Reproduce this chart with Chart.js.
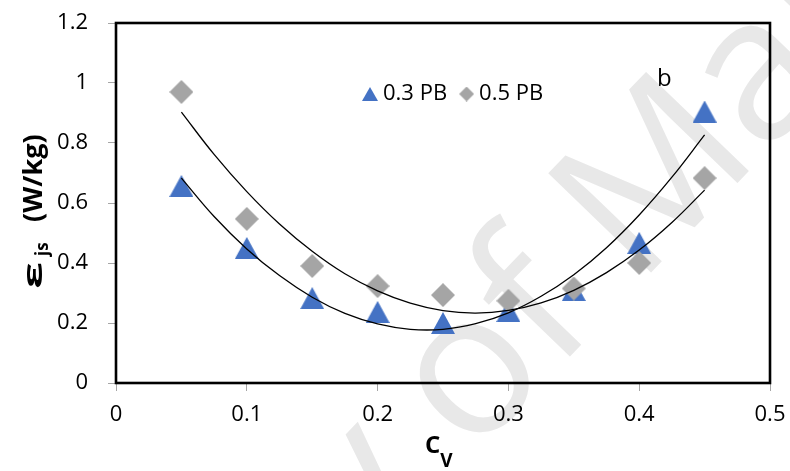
<!DOCTYPE html>
<html>
<head>
<meta charset="utf-8">
<script src="https://cdn.jsdelivr.net/npm/chart.js@4.4.1/dist/chart.umd.min.js"></script>
<style>
  html, body { margin: 0; padding: 0; background: #fff; }
  #wrap { width: 790px; height: 471px; }
</style>
</head>
<body>
<div id="wrap"><canvas id="c" width="790" height="471"></canvas></div>
<script>
// Volume concentration (Cv) of the measured points
const cv = [0.05, 0.1, 0.15, 0.2, 0.25, 0.3, 0.35, 0.4, 0.45];
// Specific energy εjs (W/kg) for each pebble size
const pb03 = [0.657, 0.45, 0.283, 0.237, 0.20, 0.24, 0.31, 0.467, 0.905];
const pb05 = [0.97, 0.547, 0.39, 0.323, 0.293, 0.274, 0.315, 0.40, 0.683];
// Second-order trend curves, sampled along Cv
const fitCv = [0.05, 0.075, 0.1, 0.125, 0.15, 0.175, 0.2, 0.225, 0.25, 0.275, 0.3, 0.325, 0.35, 0.375, 0.4, 0.425, 0.45];
const fit03 = [0.683, 0.555, 0.447, 0.358, 0.286, 0.232, 0.197, 0.179, 0.179, 0.198, 0.234, 0.289, 0.361, 0.451, 0.560, 0.686, 0.827];
const fit05 = [0.903, 0.762, 0.638, 0.530, 0.439, 0.364, 0.307, 0.266, 0.241, 0.233, 0.242, 0.267, 0.309, 0.368, 0.443, 0.535, 0.643];
// Axis ticks and labels
const xTicks = [0, 0.1, 0.2, 0.3, 0.4, 0.5];
const yTicks = [0, 0.2, 0.4, 0.6, 0.8, 1, 1.2];
const seriesNames = ['0.3 PB', '0.5 PB'];
const panelLabel = 'b';
const watermarkText = 'University of Malaya';

const BLUE = '#4472C4';
const GREY = '#A5A5A5';
const FONT = '"Open Sans", "Liberation Sans", sans-serif';

// Build a marker bitmap (centred on the data point by Chart.js)
function markerCanvas(shape, w, h, color) {
  const c = document.createElement('canvas');
  c.width = w; c.height = h;
  const g = c.getContext('2d');
  g.fillStyle = color;
  g.beginPath();
  if (shape === 'triangle') {
    g.moveTo(w / 2, 0); g.lineTo(w, h); g.lineTo(0, h);
  } else {
    g.moveTo(w / 2, 0); g.lineTo(w, h / 2); g.lineTo(w / 2, h); g.lineTo(0, h / 2);
  }
  g.closePath();
  g.fill();
  return c;
}

const triPoint = markerCanvas('triangle', 24, 22, BLUE);
const diaPoint = markerCanvas('diamond', 24, 24, GREY);
const triIcon = markerCanvas('triangle', 16, 14, BLUE);
const diaIcon = markerCanvas('diamond', 15, 15, GREY);

const toXY = (xs, ys) => xs.map((x, i) => ({ x: x, y: ys[i] }));

// Page background and the faint diagonal watermark behind the plot
const backdrop = {
  id: 'backdrop',
  beforeDraw(chart) {
    const ctx = chart.ctx;
    ctx.save();
    ctx.fillStyle = '#fff';
    ctx.fillRect(0, 0, chart.width, chart.height);
    const size = 200;
    ctx.font = '500 ' + size + 'px ' + FONT;
    ctx.fillStyle = '#e8e8e8';
    ctx.textBaseline = 'alphabetic';
    ctx.textAlign = 'left';
    const pre = ctx.measureText('University ').width;
    const o = ctx.measureText('o').width;
    ctx.translate(474, 378);
    ctx.rotate(-46 * Math.PI / 180);
    ctx.fillText(watermarkText, -(pre + o / 2), 0.27 * size);
    ctx.restore();
  }
};

// Legend inside the plot, panel letter, frame and axis titles
const overlay = {
  id: 'overlay',
  afterDraw(chart) {
    const ctx = chart.ctx;
    const a = chart.chartArea;
    ctx.save();

    // plot frame
    ctx.strokeStyle = '#000';
    ctx.lineWidth = 2.6;
    ctx.strokeRect(a.left, a.top, a.right - a.left, a.bottom - a.top);

    // legend
    ctx.fillStyle = '#000';
    ctx.font = '22px ' + FONT;
    ctx.textBaseline = 'alphabetic';
    ctx.textAlign = 'left';
    let x = 362;
    const cy = 94;
    chart.data.datasets
      .filter(ds => ds.legendIcon)
      .sort((p, q) => seriesNames.indexOf(p.label) - seriesNames.indexOf(q.label))
      .forEach(ds => {
        const ic = ds.legendIcon;
        ctx.drawImage(ic, x, cy - ic.height / 2);
        x += ic.width + 5;
        ctx.fillText(ds.label, x, 100);
        x += ctx.measureText(ds.label).width + 12;
      });

    // panel letter
    ctx.font = '24px ' + FONT;
    ctx.fillText(panelLabel, 657, 86);

    // x-axis title: C with subscript V
    ctx.font = 'bold 24px ' + FONT;
    ctx.fillText('C', 425, 453);
    const cw = ctx.measureText('C').width;
    ctx.font = 'bold 19px ' + FONT;
    ctx.fillText('V', 425 + cw, 467);

    // y-axis title: εjs (W/kg), reading upwards
    ctx.translate(42, 0);
    ctx.rotate(-Math.PI / 2);
    ctx.save();
    ctx.font = 'bold 27px ' + FONT;
    ctx.translate(-289, 0);
    const ew = ctx.measureText('ε').width;
    ctx.scale(27 / ew, 1);
    ctx.fillText('ε', 0, 0);
    ctx.restore();
    ctx.font = 'bold 17px ' + FONT;
    ctx.fillText('js', -256, 6);
    ctx.font = 'bold 27px ' + FONT;
    ctx.fillText('(W/kg)', -222, 0);

    ctx.restore();
  }
};

// Pin the axis boxes so the plot area sits where the layout padding says
function pinScale(size) {
  return s => {
    if (s.isHorizontal()) s.height = size; else s.width = size;
    s.paddingTop = 0; s.paddingBottom = 0; s.paddingLeft = 0; s.paddingRight = 0;
  };
}

const tickFont = { family: FONT, size: 22 };

new Chart(document.getElementById('c'), {
  type: 'scatter',
  data: {
    datasets: [
      {
        label: 'fit 0.3 PB', data: toXY(fitCv, fit03), showLine: true,
        borderColor: '#000', borderWidth: 1.3, pointRadius: 0, tension: 0.4, fill: false, order: 0
      },
      {
        label: 'fit 0.5 PB', data: toXY(fitCv, fit05), showLine: true,
        borderColor: '#000', borderWidth: 1.3, pointRadius: 0, tension: 0.4, fill: false, order: 0
      },
      {
        label: seriesNames[1], data: toXY(cv, pb05), pointStyle: diaPoint,
        backgroundColor: GREY, legendIcon: diaIcon, order: 1
      },
      {
        label: seriesNames[0], data: toXY(cv, pb03), pointStyle: triPoint,
        backgroundColor: BLUE, legendIcon: triIcon, order: 2
      }
    ]
  },
  options: {
    responsive: false,
    animation: false,
    events: [],
    layout: { padding: { left: 0, right: 20, top: 23, bottom: 0 } },
    plugins: { legend: { display: false }, tooltip: { enabled: false } },
    scales: {
      x: {
        type: 'linear', min: 0, max: 0.5,
        afterBuildTicks: s => { s.ticks = xTicks.map(v => ({ value: v })); },
        afterFit: pinScale(88),
        ticks: { font: tickFont, color: '#000', padding: 11, maxRotation: 0,
                 callback: v => String(v) },
        grid: { drawOnChartArea: false, drawTicks: true, tickLength: 8, color: '#a6a6a6' },
        border: { display: true, color: '#8c8c8c', width: 1 }
      },
      y: {
        type: 'linear', min: 0, max: 1.2,
        afterBuildTicks: s => { s.ticks = yTicks.map(v => ({ value: v })); },
        afterFit: pinScale(116),
        ticks: { font: tickFont, color: '#000', padding: 20,
                 callback: v => String(v) },
        grid: { drawOnChartArea: false, drawTicks: true, tickLength: 8, color: '#a6a6a6' },
        border: { display: true, color: '#8c8c8c', width: 1 }
      }
    }
  },
  plugins: [backdrop, overlay]
});
</script>
</body>
</html>
